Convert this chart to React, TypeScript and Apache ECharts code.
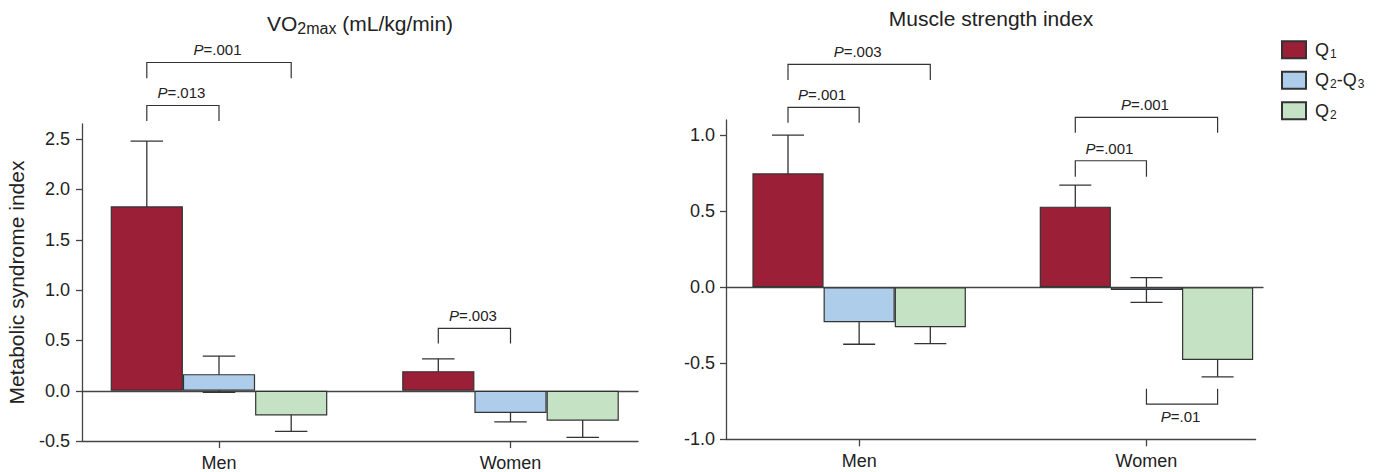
import React, { useEffect, useRef } from 'react';
import * as echarts from 'echarts';

const categories = ['Men', 'Women'];
const groupNames = ['Q1', 'Q2-Q3', 'Q2'];
const groupColors = ['#9b1f37', '#aecdeb', '#c5e3c4'];

// VO2max panel: means and error half-widths per category [Men, Women]
const vo2Q1 = [1.832, 0.195];
const vo2Q1Err = [0.648, 0.122];
const vo2Q23 = [0.165, -0.221];
const vo2Q23Err = [0.18, 0.089];
const vo2Q2 = [-0.245, -0.297];
const vo2Q2Err = [0.158, 0.166];

// Muscle strength panel
const msQ1 = [0.749, 0.53];
const msQ1Err = [0.252, 0.142];
const msQ23 = [-0.23, -0.018];
const msQ23Err = [0.145, 0.081];
const msQ2 = [-0.263, -0.478];
const msQ2Err = [0.108, 0.111];

const vo2Ticks = [-0.5, 0, 0.5, 1, 1.5, 2, 2.5];
const msTicks = [-1, -0.5, 0, 0.5, 1];

// significance brackets: [category, fromBar, toBar, line value, leg-end value]
const vo2Brackets = [
  [0, 0, 1, 2.834, 2.679],
  [0, 0, 2, 3.261, 3.105],
  [1, 0, 1, 0.619, 0.47],
];
const vo2BracketLabels = ['.013', '.001', '.003'];
const msBrackets = [
  [0, 0, 1, 1.183, 1.082],
  [0, 0, 2, 1.466, 1.363],
  [1, 0, 2, 1.117, 1.016],
  [1, 0, 1, 0.832, 0.727],
  [1, 1, 2, -0.769, -0.668],
];
const msBracketLabels = ['.001', '.003', '.001', '.001', '.01'];

const FONT = "'Liberation Sans', Arial, Helvetica, sans-serif";
const TEXT = '#222';
const AXIS = '#444';
const GAP = 0.257;

function barCenter(api: any, cat: number, bi: number) {
  const band = api.size([1, 0])[0];
  const group = band * (1 - GAP);
  const bw = group / 3;
  return { x: api.coord([cat, 0])[0] - group / 2 + bw * (bi + 0.5), bw };
}

function makeErrRender() {
  return (params: any, api: any) => {
    const cat = api.value(0);
    const bi = api.value(1);
    const v = api.value(2);
    const e = api.value(3);
    const { x, bw } = barCenter(api, cat, bi);
    const yT = api.coord([cat, v + e])[1];
    const yB = api.coord([cat, v - e])[1];
    const h = bw * 0.225;
    const st = { stroke: '#333', lineWidth: 1.3 };
    return {
      type: 'group',
      children: [
        { type: 'line', shape: { x1: x, y1: yT, x2: x, y2: yB }, style: st },
        { type: 'line', shape: { x1: x - h, y1: yT, x2: x + h, y2: yT }, style: st },
        { type: 'line', shape: { x1: x - h, y1: yB, x2: x + h, y2: yB }, style: st },
      ],
    };
  };
}

function makeBracketRender(labels: string[]) {
  return (params: any, api: any) => {
    const cat = api.value(0);
    const f = api.value(1);
    const t = api.value(2);
    const lv = api.value(3);
    const gv = api.value(4);
    const x1 = barCenter(api, cat, f).x;
    const x2 = barCenter(api, cat, t).x;
    const yl = api.coord([cat, lv])[1];
    const yg = api.coord([cat, gv])[1];
    const below = gv > lv;
    const ty = below ? yl + 12 : yl - 12.5;
    return {
      type: 'group',
      children: [
        {
          type: 'polyline',
          shape: { points: [[x1, yg], [x1, yl], [x2, yl], [x2, yg]] },
          style: { stroke: '#333', lineWidth: 1.2, fill: null },
        },
        {
          type: 'text',
          style: {
            x: (x1 + x2) / 2 - 1.5,
            y: ty,
            text: '{i|P}{n|=' + labels[params.dataIndex] + '}',
            align: 'center',
            verticalAlign: 'middle',
            rich: {
              i: { fontStyle: 'italic', fontSize: 15, fontFamily: FONT, fill: TEXT },
              n: { fontSize: 15, fontFamily: FONT, fill: TEXT },
            },
          },
        },
      ],
    };
  };
}

function panelSeries(
  xi: number,
  yi: number,
  vals: number[][],
  errs: number[][],
  brackets: number[][],
  labels: string[]
) {
  const bars = groupNames.map((name, i) => ({
    type: 'bar',
    name,
    xAxisIndex: xi,
    yAxisIndex: yi,
    data: vals[i],
    barGap: '0%',
    barCategoryGap: GAP * 100 + '%',
    z: 2,
    itemStyle: { color: groupColors[i], borderColor: '#333', borderWidth: 1.2 },
    emphasis: { disabled: true },
  }));
  const errData: number[][] = [];
  vals.forEach((arr, bi) => arr.forEach((v, ci) => errData.push([ci, bi, v, errs[bi][ci]])));
  return [
    ...bars,
    {
      type: 'custom',
      xAxisIndex: xi,
      yAxisIndex: yi,
      z: 1,
      encode: { x: 0, y: 2 },
      data: errData,
      renderItem: makeErrRender(),
      silent: true,
    },
    {
      type: 'custom',
      xAxisIndex: xi,
      yAxisIndex: yi,
      z: 3,
      clip: false,
      encode: { x: 0, y: 3 },
      data: brackets,
      renderItem: makeBracketRender(labels),
      silent: true,
    },
  ];
}

const hiddenValueX = (grid: number, onZero: boolean) => ({
  type: 'value',
  gridIndex: grid,
  min: 0,
  max: 1,
  axisLine: { show: true, onZero, lineStyle: { color: AXIS, width: 1.3 } },
  axisTick: { show: false },
  axisLabel: { show: false },
  splitLine: { show: false },
});

const catX = (grid: number) => ({
  type: 'category',
  gridIndex: grid,
  data: categories,
  axisLine: { show: false, onZero: false },
  axisTick: { show: true, alignWithLabel: true, length: 7, lineStyle: { color: AXIS, width: 1.3 } },
  axisLabel: { fontSize: 18, fontFamily: FONT, color: TEXT, margin: 13 },
  splitLine: { show: false },
});

const hiddenY = (grid: number, min: number, max: number) => ({
  type: 'value',
  gridIndex: grid,
  min,
  max,
  show: false,
  splitLine: { show: false },
});

const visibleY = (grid: number, min: number, max: number, ticks: number[], name: string, margin: number) => ({
  type: 'value',
  gridIndex: grid,
  min,
  max,
  name,
  nameLocation: 'middle',
  nameGap: 55,
  nameTextStyle: { fontSize: 21, fontFamily: FONT, color: TEXT },
  axisLine: { show: true, onZero: false, lineStyle: { color: AXIS, width: 1.3 } },
  axisTick: { show: true, length: 6, customValues: ticks, lineStyle: { color: AXIS, width: 1.3 } },
  axisLabel: {
    customValues: ticks,
    fontSize: 18,
    fontFamily: FONT,
    color: TEXT,
    margin,
    formatter: (v: number) => v.toFixed(1),
  },
  splitLine: { show: false },
});

const legendRich: Record<string, string> = {
  Q1: '{q|Q}{s|1}',
  'Q2-Q3': '{q|Q}{s|2}{q|-Q}{s|3}',
  Q2: '{q|Q}{s|2}',
};

export default function App() {
  const ref = useRef<HTMLDivElement>(null);
  useEffect(() => {
    if (!ref.current) return;
    const chart = echarts.init(ref.current, undefined, { renderer: 'svg' });
    const gridBase = { outerBoundsMode: 'none', containLabel: false };
    const option: any = {
      animation: false,
      textStyle: { fontFamily: FONT },
      grid: [
        { ...gridBase, left: 73.25, top: 124, width: 583, height: 317.1 },
        { ...gridBase, left: 82, top: 124, width: 556, height: 317.1 },
        { ...gridBase, left: 715.5, top: 120, width: 574.6, height: 319.3 },
        { ...gridBase, left: 726, top: 120, width: 529.6, height: 319.3 },
        { ...gridBase, left: 726, top: 120, width: 537, height: 319.3 },
      ],
      xAxis: [
        catX(0),
        hiddenValueX(1, false),
        hiddenValueX(1, true),
        catX(2),
        hiddenValueX(3, false),
        hiddenValueX(4, true),
      ],
      yAxis: [
        hiddenY(0, -0.5, 2.65),
        visibleY(1, -0.5, 2.65, vo2Ticks, 'Metabolic syndrome index', 12),
        hiddenY(2, -1, 1.1),
        visibleY(3, -1, 1.1, msTicks, '', 11),
        hiddenY(4, -1, 1.1),
      ],
      legend: {
        data: groupNames,
        orient: 'vertical',
        left: 1281,
        top: 40.2,
        padding: 0,
        itemWidth: 24,
        itemHeight: 17,
        itemGap: 11,
        icon: 'rect',
        selectedMode: false,
        formatter: (name: string) => legendRich[name],
        textStyle: {
          color: TEXT,
          fontFamily: FONT,
          padding: [0, 0, 0, 4],
          rich: {
            q: { fontSize: 18, fontFamily: FONT, color: TEXT, lineHeight: 22 },
            s: { fontSize: 12, fontFamily: FONT, color: TEXT, padding: [8, 0, 0, 1] },
          },
        },
      },
      graphic: [
        {
          type: 'text',
          x: 360,
          y: 23,
          style: {
            text: '{m|VO}{s|2max}{m| (mL/kg/min)}',
            align: 'center',
            verticalAlign: 'middle',
            rich: {
              m: { fontSize: 21, fontFamily: FONT, fill: TEXT, lineHeight: 32 },
              s: { fontSize: 16, fontFamily: FONT, fill: TEXT, padding: [11, 0, 0, 0] },
            },
          },
        },
        {
          type: 'text',
          x: 991,
          y: 18.5,
          style: {
            text: 'Muscle strength index',
            align: 'center',
            verticalAlign: 'middle',
            fontSize: 21,
            fontFamily: FONT,
            fill: TEXT,
          },
        },
      ],
      series: [
        ...panelSeries(0, 0, [vo2Q1, vo2Q23, vo2Q2], [vo2Q1Err, vo2Q23Err, vo2Q2Err], vo2Brackets, vo2BracketLabels),
        ...panelSeries(3, 2, [msQ1, msQ23, msQ2], [msQ1Err, msQ23Err, msQ2Err], msBrackets, msBracketLabels),
      ],
    };
    chart.setOption(option);
    return () => chart.dispose();
  }, []);
  return (
    <div
      ref={ref}
      style={{ position: 'fixed', left: 0, top: 0, width: 1378, height: 472, background: '#fff' }}
    />
  );
}
